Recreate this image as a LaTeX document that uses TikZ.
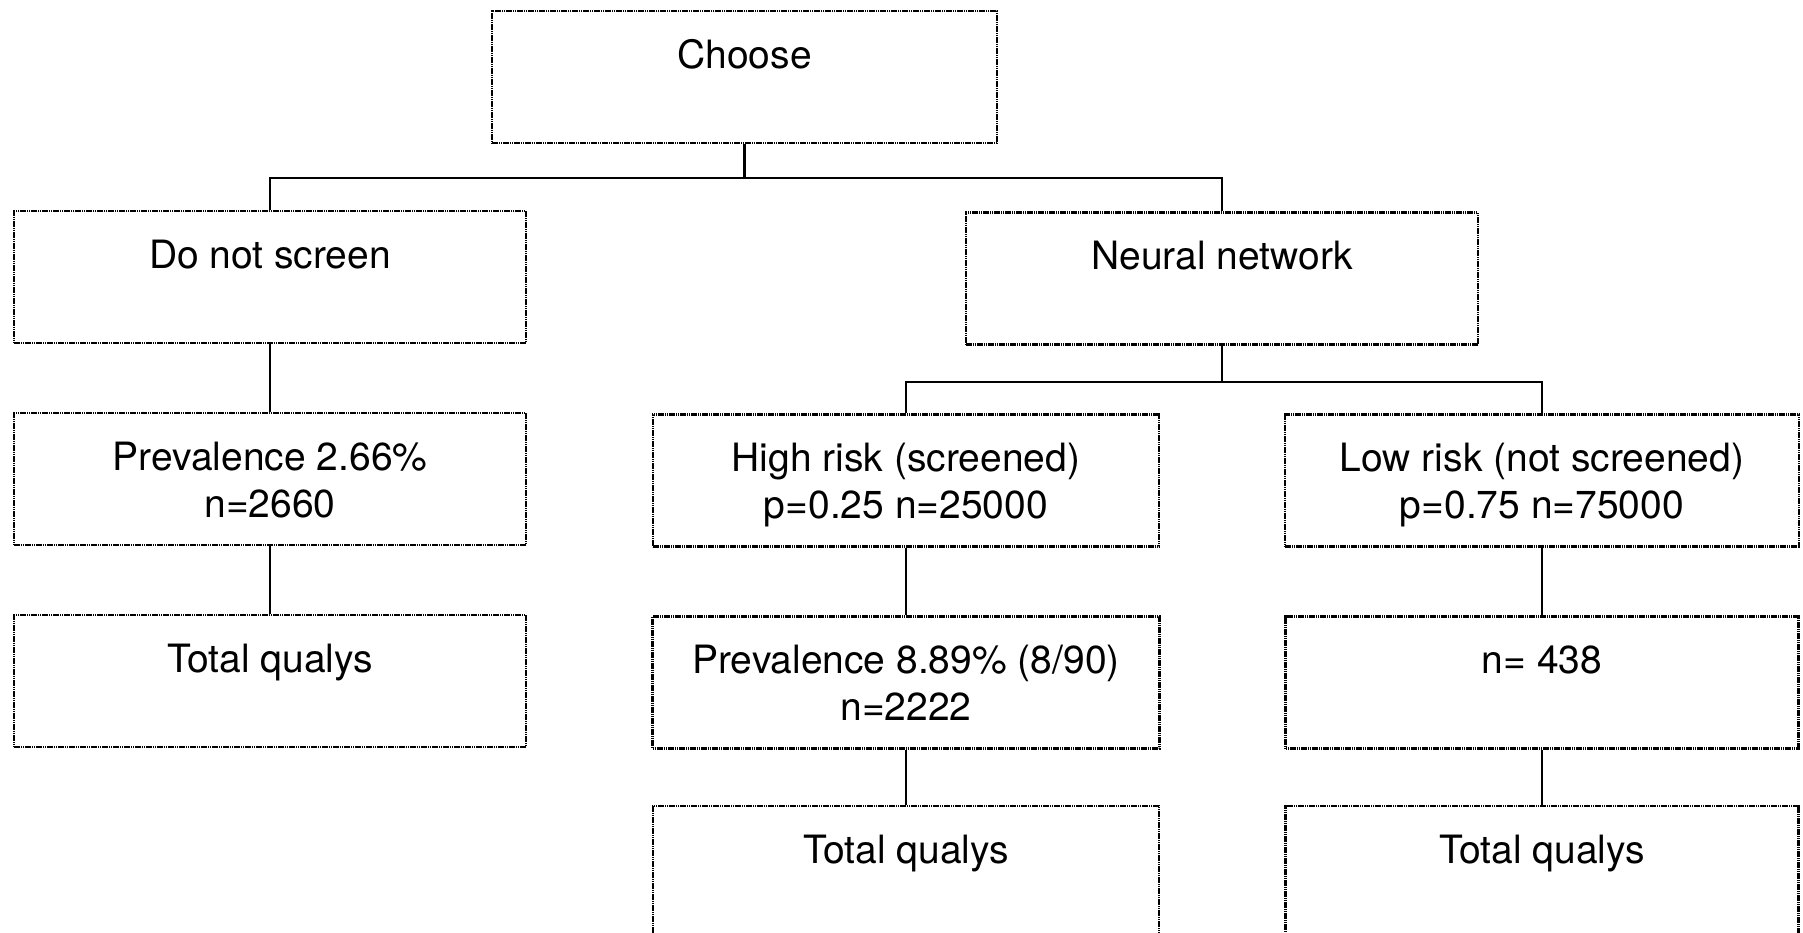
\documentclass[tikz,border=0pt]{standalone}
\usepackage{fontspec}
\setmainfont{TeX Gyre Heros}
\newcommand\boxtop{\rule{0pt}{38pt}}
\newcommand\boxlow{\vphantom{Tp}}
\begin{document}
\begin{tikzpicture}[x=1pt,y=-1pt,
  treebox/.style={draw=black, line width=2.4pt, dash pattern=on 1.6pt off 0.6pt,
    rectangle, minimum width=#1, minimum height=132pt, inner sep=0pt,
    align=center, font=\fontsize{39}{47}\selectfont},
  treebox/.default=510pt,
  link/.style={draw=black, line width=2.4pt}]
\useasboundingbox (0,0) rectangle (1803,932);

% first level
\node[treebox=505pt] (choose) at (744.5,77) {\boxtop Choose\\\boxlow};
\node[treebox=512pt] (dns) at (270,277) {\boxtop Do not screen\\\boxlow};
\node[treebox=512pt] (nn) at (1222,278.5) {\boxtop Neural network\\\boxlow};

% second level
\node[treebox=512pt] (prev1) at (270,479) {\boxtop Prevalence 2.66\%\\\boxlow n=2660};
\node[treebox=506pt] (high) at (906,480.5) {\boxtop High risk (screened)\\\boxlow p=0.25 n=25000};
\node[treebox=514pt] (low) at (1542,480.5) {\boxtop Low risk (not screened)\\\boxlow p=0.75 n=75000};

% third level
\node[treebox=512pt] (tq1) at (270,681) {\boxtop Total qualys\\\boxlow};
\node[treebox=507pt] (prev2) at (906,682.5) {\boxtop Prevalence 8.89\% (8/90)\\\boxlow n=2222};
\node[treebox=513pt] (n438) at (1542,682.5) {\boxtop n= 438\\\boxlow};

% fourth level
\node[treebox=506pt] (tq2) at (906,872) {\boxtop Total qualys\\\boxlow};
\node[treebox=513pt] (tq3) at (1542,872) {\boxtop Total qualys\\\boxlow};

% connectors
\draw[link] (choose.south) -- ++(0,34) -| (dns.north);
\draw[link] (choose.south) -- ++(0,34) -| (nn.north);
\draw[link] (nn.south) -- ++(0,36) -| (high.north);
\draw[link] (nn.south) -- ++(0,36) -| (low.north);
\draw[link] (dns.south) -- (prev1.north);
\draw[link] (prev1.south) -- (tq1.north);
\draw[link] (high.south) -- (prev2.north);
\draw[link] (low.south) -- (n438.north);
\draw[link] (prev2.south) -- (tq2.north);
\draw[link] (n438.south) -- (tq3.north);
\end{tikzpicture}
\end{document}
